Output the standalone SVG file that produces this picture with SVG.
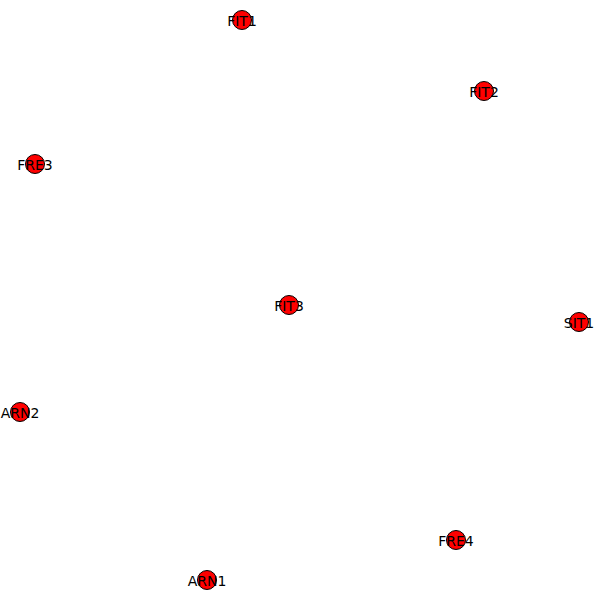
<svg xmlns="http://www.w3.org/2000/svg" width="600" height="600" viewBox="0 0 600 600">
<style>
.n circle{fill:#ff0000;stroke:#000;stroke-width:1}
.n text{font-family:"DejaVu Sans",sans-serif;font-size:14px;fill:#000;text-anchor:middle;dominant-baseline:central}
</style>
<rect width="600" height="600" fill="#fff"/>
<g id="edges"></g>
<g id="FIT1" class="n"><circle cx="242" cy="20" r="9.5"/><text x="242" y="21">FIT1</text></g>
<g id="FIT2" class="n"><circle cx="484" cy="91" r="9.5"/><text x="484" y="92">FIT2</text></g>
<g id="FRE3" class="n"><circle cx="35" cy="164" r="9.5"/><text x="35" y="165">FRE3</text></g>
<g id="FIT3" class="n"><circle cx="289" cy="305" r="9.5"/><text x="289" y="306">FIT3</text></g>
<g id="SIT1" class="n"><circle cx="579" cy="322" r="9.5"/><text x="579" y="323">SIT1</text></g>
<g id="ARN2" class="n"><circle cx="20" cy="412" r="9.5"/><text x="20" y="413">ARN2</text></g>
<g id="FRE4" class="n"><circle cx="456" cy="540" r="9.5"/><text x="456" y="541">FRE4</text></g>
<g id="ARN1" class="n"><circle cx="207" cy="580" r="9.5"/><text x="207" y="581">ARN1</text></g>
</svg>
